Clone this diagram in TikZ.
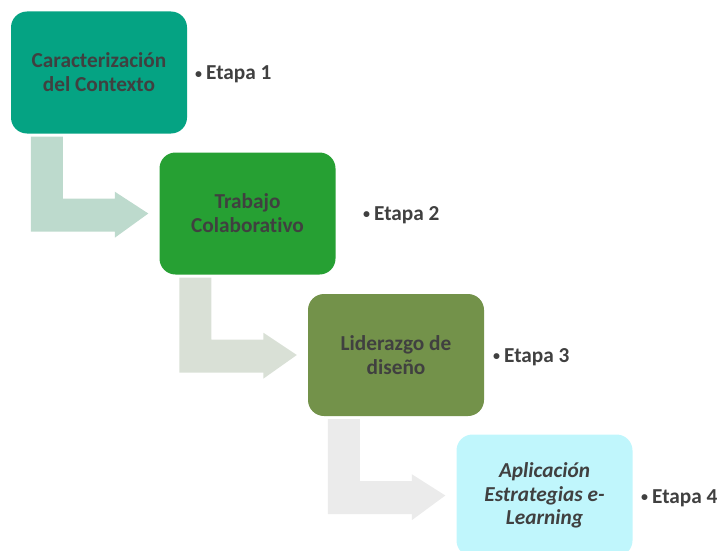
\documentclass[tikz,border=0pt]{standalone}
\usepackage{fontspec}
\setmainfont{Carlito}[Ligatures={NoCommon}]
\usetikzlibrary{calc}
\definecolor{txt}{RGB}{64,64,64}
\definecolor{c1}{RGB}{5,163,131}
\definecolor{c2}{RGB}{38,160,51}
\definecolor{c3}{RGB}{115,146,74}
\definecolor{c4}{RGB}{192,246,252}
\definecolor{a1}{RGB}{189,218,205}
\definecolor{a2}{RGB}{217,224,214}
\definecolor{a3}{RGB}{235,235,235}
\tikzset{
  stagebox/.style={rectangle, rounded corners=16pt, minimum width=176pt, minimum height=122pt,
    inner sep=0pt, align=center, text=txt, font=\bfseries\fontsize{21.3}{23.8}\selectfont},
  etapa/.style={anchor=base west, inner sep=0pt, text=txt, font=\bfseries\fontsize{21.3}{24}\selectfont}
}
\newcommand{\bentarrow}[3]{%
  \fill[#3] ($(#1.south west)+(20,3)$) -- ($(#1.south west)+(52,3)$) -- ($(#1.south west)+(52,65)$)
    -- ($(#1.south west)+(104,65)$) -- ($(#1.south west)+(104,58)$) -- ($(#2.west)+(-11,0)$)
    -- ($(#1.south west)+(104,104)$) -- ($(#1.south west)+(104,98)$) -- ($(#1.south west)+(20,98)$) -- cycle;}
\newcommand{\bul}{{\fontsize{14}{14}\selectfont\raisebox{1.5pt}{\textbullet}}\hspace{4pt}}
\begin{document}
\begin{tikzpicture}[x=1pt,y=-1pt]
\useasboundingbox (0,0) rectangle (720,551);
\node[stagebox, fill=c1] (b1) at (99,72.5) {Caracterización\\del Contexto};
\node[stagebox, fill=c2] (b2) at (247.5,213.5) {Trabajo\\Colaborativo};
\node[stagebox, fill=c3] (b3) at (396,355) {Liderazgo de\\diseño};
\node[stagebox, fill=c4] (b4) at (544.5,495.5) {\itshape Aplicación\\\itshape Estrategias e-\\\itshape Learning};
\bentarrow{b1}{b2}{a1}
\bentarrow{b2}{b3}{a2}
\bentarrow{b3}{b4}{a3}
\node[etapa] (e1) at (195,80) {\bul Etapa 1};
\node[etapa] (e2) at (363,220) {\bul Etapa 2};
\node[etapa] (e3) at (493,362) {\bul Etapa 3};
\node[etapa] (e4) at (641,503) {\bul Etapa 4};
\end{tikzpicture}
\end{document}
